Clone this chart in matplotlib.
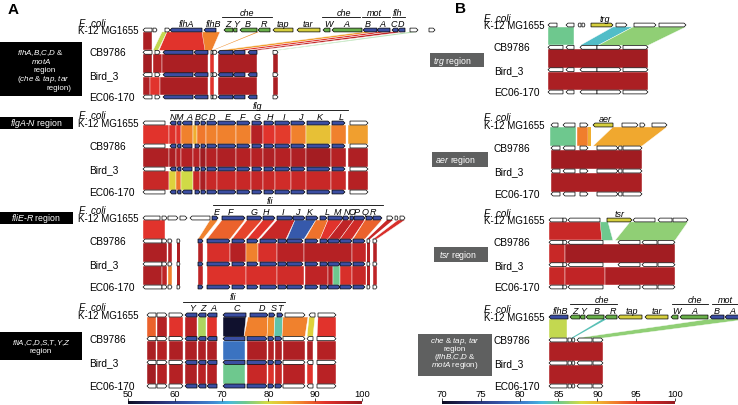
import matplotlib
matplotlib.use('Agg')
import matplotlib.pyplot as plt
from matplotlib.patches import Polygon, Rectangle
from matplotlib.colors import LinearSegmentedColormap, Normalize
from matplotlib.cm import ScalarMappable

plt.rcParams['font.family'] = ['Liberation Sans', 'DejaVu Sans']
plt.rcParams['mathtext.fontset'] = 'custom'
plt.rcParams['mathtext.rm'] = 'Liberation Sans'
plt.rcParams['mathtext.it'] = 'Liberation Sans:italic'

W, H = 738, 406

# genes: (start, end, strand, kind)  positions in 100 bp units from region start
# links: (start_a, end_a, start_b, end_b, identity %) or (start, end, identity %) if colinear
strains = ['CB9786', 'Bird_3', 'EC06-170']

# --- A: flhA,B,C,D & motA region
flh_k12 = [(3, 12, -1, 'w'), (13, 17, 1, 'w'), (25, 30, 1, 'w'), (30, 62, -1, 'b'), (64, 76, -1, 'b'),
           (84, 93, -1, 'g'), (93, 97, -1, 'g'), (100, 117, -1, 'g'), (118, 130, -1, 'g'),
           (133, 153, -1, 'y'), (157, 180, -1, 'y'), (183, 190, -1, 'g'), (192, 222, -1, 'g'),
           (223, 237, -1, 'b'), (237, 250, -1, 'b'), (252, 258, -1, 'b'), (258, 265, -1, 'b'),
           (270, 278, 1, 'w'), (289, 295, 1, 'w')]
flh_other = [(3, 12, -1, 'w'), (15, 20, 1, 'w'), (23, 53, -1, 'b'), (54, 68, -1, 'b'), (71, 73, 1, 'w'),
             (73, 77, 1, 'w'), (78, 93, -1, 'b'), (93, 105, -1, 'b'), (108, 117, -1, 'b'), (133, 138, 1, 'w')]
flh_l1 = [(3, 12, 3, 12, 98), (22, 27, 13, 18, 79), (27, 62, 19, 70, 92), (62, 80, 65, 72, 87),
          (117, 119, 72, 73, 86), (223, 237, 78, 93, 85), (237, 250, 93, 105, 92),
          (250, 265, 108, 117, 96), (270, 278, 133, 138, 76)]
flh_l2 = [(3, 12, 98.5), (13, 22, 97), (22, 68, 98), (70, 74, 92), (78, 117, 98), (133, 138, 98)]
flh_l3 = [(3, 10, 97.5), (10, 20, 92), (20, 68, 98), (70, 74, 92), (78, 117, 98), (133, 138, 98)]
flh_names = [(46, 'flhA'), (73, 'flhB'), (88, 'Z'), (96, 'Y'), (108, 'B'), (124, 'R'), (143, 'tap'),
             (168, 'tar'), (188, 'W'), (206, 'A'), (228, 'B'), (242, 'A'), (254, 'C'), (261, 'D')]
flh_groups = [(82, 132, 107, 'che'), (182, 220, 204, 'che'), (222, 250, 234, 'mot'), (252, 265, 257, 'flh')]

# --- A: flgA-N region
flg_k12 = [(3, 25, -1, 'w'), (30, 36, -1, 'b'), (37, 41, -1, 'b'), (42, 52, -1, 'b'), (55, 60, 1, 'b'),
           (61, 66, 1, 'b'), (67, 77, 1, 'b'), (78, 96, 1, 'b'), (97, 110, 1, 'b'), (112, 122, 1, 'b'),
           (124, 134, 1, 'b'), (135, 150, 1, 'b'), (151, 165, 1, 'b'), (167, 190, 1, 'b'),
           (192, 205, 1, 'b'), (210, 228, 1, 'w')]
flg_l1 = [(3, 29, 92), (29, 36, 92.5), (36, 41, 92), (41, 53, 87), (53, 57, 84), (57, 66, 87.5),
          (66, 77, 87), (77, 96, 87), (96, 111, 87), (111, 123, 97), (123, 135, 92), (135, 151, 91.5),
          (151, 166, 87), (166, 191, 82.5), (191, 206, 87), (208, 228, 85)]
flg_l2 = [(3, 29, 97.5), (29, 36, 98), (36, 41, 97), (41, 53, 97), (53, 60, 96.5), (60, 66, 99),
          (66, 77, 97), (77, 96, 97.5), (96, 111, 97), (111, 123, 97), (123, 135, 97.5), (135, 151, 97),
          (151, 166, 97.5), (166, 191, 98.5), (191, 206, 97), (208, 228, 97.5)]
flg_l3 = [(3, 29, 95), (29, 36, 81), (36, 41, 88), (41, 53, 79.5), (53, 60, 95), (60, 66, 98),
          (66, 77, 95), (77, 96, 95), (96, 111, 95), (111, 123, 95.5), (123, 135, 95), (135, 151, 94),
          (151, 166, 95), (166, 191, 95), (191, 206, 95), (208, 228, 97)]
flg_names = [(33, 'N'), (39, 'M'), (49, 'A'), (58, 'B'), (64, 'C'), (72, 'D'), (88, 'E'), (102, 'F'),
             (117, 'G'), (130, 'H'), (144, 'I'), (160, 'J'), (180, 'K'), (201, 'L')]
flg_groups = [(30, 208, 117, 'flg')]

# --- A: fliE-R region
fliE_k12 = [(3, 20, -1, 'w'), (22, 27, 1, 'w'), (28, 38, 1, 'w'), (40, 47, 1, 'w'), (50, 70, -1, 'w'),
            (72, 78, 1, 'b'), (82, 105, 1, 'b'), (107, 122, 1, 'b'), (123, 135, 1, 'b'), (137, 153, 1, 'b'),
            (153, 165, 1, 'b'), (166, 178, 1, 'b'), (180, 187, 1, 'b'), (188, 203, 1, 'b'), (203, 209, 1, 'b'),
            (210, 214, 1, 'b'), (214, 225, 1, 'b'), (226, 233, 1, 'b'), (233, 242, 1, 'b'),
            (247, 253, 1, 'w'), (255, 258, 1, 'w'), (260, 265, 1, 'w')]
fliE_other = [(3, 22, -1, 'w'), (22, 27, 1, 'w'), (28, 32, 1, 'w'), (37, 40, 1, 'w'), (58, 63, 1, 'b'),
              (67, 90, 1, 'b'), (92, 105, 1, 'b'), (107, 118, 1, 'b'), (120, 137, 1, 'b'), (138, 147, 1, 'b'),
              (147, 163, 1, 'b'), (165, 178, 1, 'b'), (180, 188, 1, 'b'), (188, 200, 1, 'b'),
              (200, 212, 1, 'b'), (213, 225, 1, 'b'), (227, 230, 1, 'w'), (233, 237, 1, 'w')]
fliE_l1 = [(3, 25, 3, 25, 92), (70, 78, 58, 63, 87), (82, 105, 67, 90, 89), (107, 122, 92, 105, 91),
           (123, 135, 107, 118, 92), (137, 155, 120, 146, 95), (155, 176, 147, 164, 63),
           (176, 188, 165, 180, 88), (188, 203, 180, 188, 92), (203, 214, 188, 200, 96),
           (214, 225, 200, 212, 94), (225, 242, 213, 225, 89), (247, 253, 227, 230, 95),
           (258, 265, 233, 237, 93)]
fliE_l2 = [(3, 27, 97.5), (28, 32, 97), (37, 40, 97.5), (58, 63, 97), (67, 90, 93), (90, 106, 97),
           (106, 118, 87), (118, 137, 93), (137, 164, 96.5), (164, 212, 97), (212, 226, 95.5),
           (227, 230, 97), (233, 237, 97)]
fliE_l3 = [(3, 22, 97.5), (22, 27, 96), (28, 32, 87), (37, 40, 97.5), (58, 63, 96), (67, 106, 92.5),
           (106, 137, 93), (137, 164, 94), (165, 188, 96), (188, 193, 97), (193, 200, 75),
           (200, 212, 93), (212, 226, 95), (227, 230, 97), (233, 237, 96)]
fliE_names = [(77, 'E'), (90, 'F'), (114, 'G'), (126, 'H'), (143, 'I'), (157, 'J'), (170, 'K'),
              (187, 'L'), (197, 'M'), (207, 'N'), (212, 'O'), (217, 'P'), (225, 'Q'), (233, 'R')]
fliE_groups = [(73, 243, 130, 'fli')]

# --- A: fliA,C,D,S,T,Y,Z region
fliA_k12 = [(7, 16, -1, 'w'), (17, 27, 1, 'w'), (29, 43, 1, 'w'), (45, 57, -1, 'b'), (58, 66, -1, 'b'),
            (67, 77, -1, 'b'), (83, 106, -1, 'b'), (110, 128, 1, 'b'), (129, 135, 1, 'b'), (137, 143, 1, 'b'),
            (145, 165, 1, 'w'), (169, 175, -1, 'w'), (178, 196, 1, 'w')]
fliA_other = [(7, 16, -1, 'w'), (17, 27, 1, 'w'), (29, 43, 1, 'w'), (45, 57, -1, 'b'), (58, 66, -1, 'b'),
              (67, 77, -1, 'b'), (83, 105, -1, 'b'), (107, 127, 1, 'b'), (128, 134, 1, 'b'),
              (135, 142, 1, 'b'), (143, 165, 1, 'w'), (167, 173, -1, 'w'), (177, 196, 1, 'w')]
fliA_l1 = [(7, 16, 7, 16, 89), (17, 27, 17, 27, 97), (29, 43, 29, 43, 92), (45, 57, 45, 57, 96.5),
           (58, 66, 58, 66, 78), (67, 77, 67, 77, 92), (83, 106, 83, 104, 51), (108, 128, 104, 127, 87),
           (128, 135, 127, 134, 86), (135, 143, 134, 142, 74), (143, 168, 142, 165, 87),
           (169, 175, 167, 173, 81), (178, 196, 177, 196, 92)]
fliA_l2 = [(7, 16, 98), (17, 27, 97), (29, 43, 97.5), (45, 57, 97.5), (58, 66, 97.5), (67, 77, 97.5),
           (83, 105, 66), (107, 127, 97.5), (128, 134, 97), (135, 142, 97.5), (143, 165, 97.5),
           (167, 173, 97.5), (177, 196, 97)]
fliA_l3 = [(7, 16, 98.5), (17, 27, 97), (29, 43, 97), (45, 57, 97.5), (58, 66, 96.5), (67, 77, 97),
           (83, 105, 75), (107, 127, 95), (128, 134, 92.5), (135, 142, 95), (143, 165, 96.5),
           (167, 173, 92), (177, 196, 96.5)]
fliA_names = [(52, 'Y'), (63, 'Z'), (73, 'A'), (97, 'C'), (122, 'D'), (134, 'S'), (140, 'T')]
fliA_groups = [(43, 145, 93, 'fli')]

# --- B: trg region
trg_k12 = [(3, 12, -1, 'w'), (21, 29, -1, 'w'), (33, 36, -1, 'w'), (37, 40, 1, 'w'), (46, 68, 1, 'y'),
           (71, 82, 1, 'w'), (89, 111, 1, 'w'), (114, 141, 1, 'w')]
trg_other = [(3, 18, -1, 'w'), (21, 29, -1, 'w'), (35, 52, -1, 'w'), (52, 76, 1, 'w'), (78, 103, 1, 'w')]
trg_l1 = [(3, 29, 3, 29, 85), (68, 88, 35, 53, 83.5), (88, 141, 53, 103, 86)]
trg_l2 = [(3, 103, 99.2)]
trg_l3 = [(3, 103, 98.8)]
trg_names = [(60, 'trg')]

# --- B: aer region
aer_k12 = [(6, 13, -1, 'w'), (18, 30, -1, 'w'), (35, 43, 1, 'w'), (48, 68, -1, 'y'), (77, 93, 1, 'w'),
           (95, 100, 1, 'w'), (107, 122, 1, 'w')]
aer_other = [(6, 15, -1, 'w'), (18, 30, -1, 'w'), (35, 43, 1, 'w'), (52, 73, 1, 'w'), (73, 77, -1, 'w'),
             (78, 97, 1, 'w')]
aer_l1 = [(5, 31, 5, 31, 85), (32, 43, 32, 43, 92.3), (43, 46, 43, 46, 90.5), (68, 122, 48, 97, 90.7)]
aer_l2 = [(6, 97, 99.3)]
aer_l3 = [(6, 97, 98.8)]
aer_names = [(60, 'aer')]

# --- B: tsr region
tsr_k12 = [(4, 18, -1, 'w'), (18, 22, 1, 'w'), (23, 55, -1, 'w'), (62, 87, 1, 'y'), (88, 110, -1, 'w'),
           (113, 127, -1, 'w'), (128, 143, 1, 'w')]
tsr_other = [(4, 18, -1, 'w'), (18, 22, 1, 'w'), (23, 58, -1, 'w'), (73, 95, -1, 'w'), (97, 112, -1, 'w'),
             (113, 130, 1, 'w')]
tsr_l1 = [(4, 57, 4, 57, 97), (55, 63, 57, 68, 85), (85, 143, 70, 130, 86)]
tsr_l2 = [(4, 20, 97), (20, 130, 99.2)]
tsr_l3 = [(4, 20, 97), (20, 60, 97.5), (60, 130, 98.7)]
tsr_names = [(75, 'tsr')]

# --- B: che & tap, tar region
che_k12 = [(4, 23, -1, 'b'), (25, 35, -1, 'g'), (35, 40, -1, 'g'), (41, 59, -1, 'g'), (60, 72, -1, 'g'),
           (73, 97, -1, 'y'), (100, 123, -1, 'y'), (126, 133, -1, 'g'), (135, 163, -1, 'g'),
           (165, 179, -1, 'b'), (180, 195, -1, 'b')]
che_other = [(4, 22, -1, 'w'), (23, 27, 1, 'w'), (27, 30, 1, 'w'), (32, 47, -1, 'w'), (48, 58, 1, 'w')]
che_l1 = [(4, 22, 4, 22, 87.4), (58, 62, 26, 28, 84), (165, 205, 32, 58, 86)]
che_l2 = [(4, 58, 98.5)]
che_l3 = [(4, 58, 98.5)]
che_names = [(15, 'flhB'), (30, 'Z'), (38, 'Y'), (52, 'B'), (68, 'R'), (87, 'tap'), (112, 'tar'),
             (131, 'W'), (149, 'A'), (172, 'B'), (187, 'A')]
che_groups = [(25, 72, 57, 'che'), (127, 163, 150, 'che'), (167, 193, 180, 'mot')]

GENE_COLORS = {'w': 'white', 'b': '#3b4ea2', 'g': '#69b04a', 'y': '#d6cf3e'}
cmap = LinearSegmentedColormap.from_list('ident', [
    (0.0, '#0c0c22'), (0.12, '#262a6a'), (0.25, '#3555a8'), (0.36, '#3f86d0'), (0.43, '#45b8e0'),
    (0.5, '#6cc890'), (0.6, '#d8dc40'), (0.68, '#f0b030'), (0.75, '#f07a2c'), (0.84, '#e2342c'),
    (0.92, '#c02426'), (1.0, '#961a20')])
normA = Normalize(50, 100)
normB = Normalize(70, 100)

fig = plt.figure(figsize=(W / 100, H / 100), dpi=100)
bg = fig.add_axes([0, 0, 1, 1])
bg.set_xlim(0, W)
bg.set_ylim(H, 0)
bg.axis('off')

GH = 0.085   # half gene height (track units)


def draw_gene(ax, g, y):
    s, e, strand, kind = g
    head = min(2.0, 0.3 * (e - s))
    if strand > 0:
        pts = [(s, y - GH), (e - head, y - GH), (e, y), (e - head, y + GH), (s, y + GH)]
    else:
        pts = [(e, y - GH), (s + head, y - GH), (s, y), (s + head, y + GH), (e, y + GH)]
    ax.add_patch(Polygon(pts, closed=True, fc=GENE_COLORS[kind], ec='black', lw=0.5, zorder=3))


def draw_link(ax, link, i, norm):
    if len(link) == 3:
        a0, a1, v = link
        b0, b1 = a0, a1
    else:
        a0, a1, b0, b1, v = link
    pts = [(a0, i + GH), (a1, i + GH), (b1, i + 1 - GH), (b0, i + 1 - GH)]
    thin = min(a1 - a0, b1 - b0) < 4
    ax.add_patch(Polygon(pts, closed=True, fc=cmap(norm(v)), ec='none' if thin else 'white',
                         lw=0.3, zorder=1))


def region(left, width, y_k12, y_last, k12, other, links, norm, names=(), groups=()):
    sp = (y_last - y_k12) / 3
    top = y_k12 - 0.5 * sp
    ax = fig.add_axes([left / W, 1 - (top + 4 * sp) / H, width / W, 4 * sp / H])
    ax.set_xlim(0, width)
    ax.set_ylim(3.5, -0.5)
    ax.axis('off')
    for i, ll in enumerate(links):
        for l in ll:
            draw_link(ax, l, i, norm)
    for g in k12:
        draw_gene(ax, g, 0)
    for t in range(1, 4):
        for g in other:
            draw_gene(ax, g, t)
    for x, n in names:
        ax.text(x, -0.3, n, ha='center', va='center', fontsize=6.5, style='italic')
    for x0, x1, xl, n in groups:
        ax.plot([x0, x1], [-0.56, -0.56], color='black', lw=0.6, clip_on=False)
        ax.text(xl, -0.77, n, ha='center', va='center', fontsize=6.5, style='italic')
    # strain names
    ax.text(-48, -0.33, 'E. coli', ha='center', va='center', fontsize=7, style='italic')
    ax.text(-1, 0.02, 'K-12 MG1655', ha='right', va='center', fontsize=7)
    for t, s in enumerate(strains):
        ax.text(-51, t + 1, s, ha='left', va='center', fontsize=7.3)
    return ax


region(140, 300, 31, 98, flh_k12, flh_other, [flh_l1, flh_l2, flh_l3], normA, flh_names, flh_groups)
region(140, 300, 124, 193, flg_k12, flg_k12, [flg_l1, flg_l2, flg_l3], normA, flg_names, flg_groups)
region(140, 300, 219, 288, fliE_k12, fliE_other, [fliE_l1, fliE_l2, fliE_l3], normA, fliE_names, fliE_groups)
region(140, 300, 316, 387, fliA_k12, fliA_other, [fliA_l1, fliA_l2, fliA_l3], normA, fliA_names, fliA_groups)

region(545, 193, 26, 93, trg_k12, trg_other, [trg_l1, trg_l2, trg_l3], normB, trg_names)
region(545, 193, 126, 195, aer_k12, aer_other, [aer_l1, aer_l2, aer_l3], normB, aer_names)
region(545, 193, 221, 288, tsr_k12, tsr_other, [tsr_l1, tsr_l2, tsr_l3], normB, tsr_names)
region(545, 193, 318, 387, che_k12, che_other, [che_l1, che_l2, che_l3], normB, che_names, che_groups)


def box(x0, y0, x1, y1, color, lines, size=5.8):
    bg.add_patch(Rectangle((x0, y0), x1 - x0, y1 - y0, fc=color, ec='none'))
    for x, y, s in lines:
        bg.text(x, y, s, color='white', ha='center', va='center', fontsize=size)


box(0, 43, 82, 97, 'black', [(40, 53, r'$\mathit{flhA{,}B{,}C{,}D}$ &'), (41, 62, r'$\mathit{motA}$'),
                             (45, 71, 'region'), (43, 79.5, r'($\mathit{che}$ & $\mathit{tap}$, $\mathit{tar}$'),
                             (59, 88, 'region)')])
box(0, 118, 73, 130, 'black', [(36, 124, r'$\mathit{flgA}$-$\mathit{N}$ region')], 6.3)
box(0, 213, 73, 225, 'black', [(36, 219, r'$\mathit{fliE}$-$\mathit{R}$ region')], 6.3)
box(0, 333, 82, 361, 'black', [(41, 343, r'$\mathit{fliA{,}C{,}D{,}S{,}T{,}Y{,}Z}$'), (41, 352, 'region')])

GREY = '#5f6060'
box(430, 54, 484, 68, GREY, [(452, 61, r'$\mathit{trg}$ region')], 6.3)
box(432, 153, 488, 168, GREY, [(455, 160.5, r'$\mathit{aer}$ region')], 6.3)
box(434, 248, 488, 263, GREY, [(458, 255.5, r'$\mathit{tsr}$ region')], 6.3)
box(418, 335, 492, 377, GREY, [(455, 341.5, r'$\mathit{che}$ & $\mathit{tap}$, $\mathit{tar}$'),
                               (455, 349.5, 'region'), (455, 357.5, r'($\mathit{flhB{,}C{,}D}$ &'),
                               (455, 366, r'$\mathit{motA}$ region)')])

bg.text(13, 10, 'A', fontsize=11, fontweight='bold', ha='center', va='center')
bg.text(460, 9, 'B', fontsize=11, fontweight='bold', ha='center', va='center')


# colour scales
def colorbar(x0, x1, norm, ticks):
    cax = fig.add_axes([x0 / W, 1 - 405 / H, (x1 - x0) / W, 3 / H])
    cb = fig.colorbar(ScalarMappable(norm=norm, cmap=cmap), cax=cax, orientation='horizontal')
    cb.outline.set_visible(False)
    cb.set_ticks(ticks)
    cax.xaxis.set_ticks_position('top')
    cax.tick_params(length=2, width=0.5, labelsize=6.8, pad=0.5)


colorbar(128, 362, normA, [50, 60, 70, 80, 90, 100])
colorbar(442, 675, normB, [70, 75, 80, 85, 90, 95, 100])

fig.savefig('out.png', dpi=100)
